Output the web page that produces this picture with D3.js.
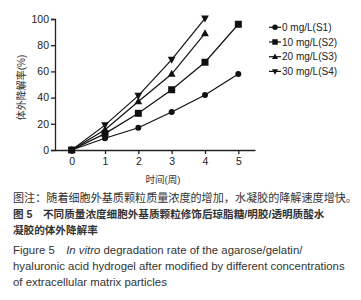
<!DOCTYPE html>
<html>
<head>
<meta charset="utf-8">
<script src="https://cdn.jsdelivr.net/npm/d3@7/dist/d3.min.js"></script>
<style>
  body { margin: 0; background: #fff; }
  svg { display: block; }
</style>
</head>
<body>
<div id="chart"></div>
<script>
// data
const weeks = [0, 1, 2, 3, 4, 5];
const seriesNames = ["0 mg/L(S1)", "10 mg/L(S2)", "20 mg/L(S3)", "30 mg/L(S4)"];
const s1 = [0, 9, 17, 29, 42, 58];
const s2 = [0, 12.5, 28, 46, 67, 96];
const s3 = [0, 15.5, 37, 58, 89];
const s4 = [0, 19, 41.5, 69, 100.5];
const markers = ["circle", "square", "triangle", "triangleDown"];
const yTicks = [0, 20, 40, 60, 80, 100];
const xTicks = [0, 1, 2, 3, 4, 5];
const yLabel = "体外降解率(%)";
const xLabel = "时间(周)";
const captionCn = [
  "图注：随着细胞外基质颗粒质量浓度的增加，水凝胶的降解速度增快。",
  "图 5　不同质量浓度细胞外基质颗粒修饰后琼脂糖/明胶/透明质酸水",
  "凝胶的体外降解率"
];
const captionEn = [
  "hyaluronic acid hydrogel after modified by different concentrations",
  "of extracellular matrix particles"
];

const width = 361, height = 300;
const font = "Arial, 'Liberation Sans', 'Noto Sans CJK SC', sans-serif";

const svg = d3.select("#chart").append("svg")
  .attr("width", width)
  .attr("height", height)
  .style("font-family", font);

const x = d3.scaleLinear().domain([-0.5, 5.5]).range([55, 255]);
const y = d3.scaleLinear().domain([0, 100]).range([150, 19]);

// Y axis
svg.append("g")
  .attr("transform", `translate(${x(-0.5)},0)`)
  .call(d3.axisLeft(y).tickValues(yTicks).tickSize(4).tickPadding(2))
  .call(g => g.selectAll("text").attr("font-size", "10.5px").attr("fill", "#222").style("font-family", font))
  .call(g => g.selectAll("line, path").attr("stroke", "#222").attr("stroke-width", 1.3));

// X axis
svg.append("g")
  .attr("transform", `translate(0,${y(0)})`)
  .call(d3.axisBottom(x).tickValues(xTicks).tickFormat(d3.format("d"))
    .tickSize(4).tickPadding(4).tickSizeOuter(0))
  .call(g => g.selectAll("text").attr("font-size", "10.5px").attr("fill", "#222").style("font-family", font))
  .call(g => g.selectAll("line, path").attr("stroke", "#222").attr("stroke-width", 1.3));

// axis titles
svg.append("text")
  .attr("transform", `translate(25,${(y(0) + y(100)) / 2 + 3}) rotate(-90)`)
  .attr("text-anchor", "middle")
  .attr("font-size", "10px")
  .attr("fill", "#333")
  .text(yLabel);

svg.append("text")
  .attr("x", x(2.5) + 8)
  .attr("y", 183)
  .attr("text-anchor", "middle")
  .attr("font-size", "9.5px")
  .attr("fill", "#333")
  .text(xLabel);

// marker shapes
function drawMarker(g, type, cx, cy, s) {
  if (type === "circle") {
    g.append("circle").attr("cx", cx).attr("cy", cy).attr("r", s * 0.5).attr("fill", "#111");
  } else if (type === "square") {
    g.append("rect").attr("x", cx - s / 2).attr("y", cy - s / 2)
      .attr("width", s).attr("height", s).attr("fill", "#111");
  } else if (type === "triangle") {
    g.append("path")
      .attr("d", `M${cx},${cy - s * 0.6}L${cx + s * 0.55},${cy + s * 0.4}L${cx - s * 0.55},${cy + s * 0.4}Z`)
      .attr("fill", "#111");
  } else {
    g.append("path")
      .attr("d", `M${cx},${cy + s * 0.6}L${cx + s * 0.55},${cy - s * 0.4}L${cx - s * 0.55},${cy - s * 0.4}Z`)
      .attr("fill", "#111");
  }
}

const allSeries = [s1, s2, s3, s4];
const line = d3.line().x((d, i) => x(weeks[i])).y(d => y(d));

allSeries.forEach((vals, k) => {
  const g = svg.append("g");
  g.append("path")
    .datum(vals)
    .attr("d", line)
    .attr("fill", "none")
    .attr("stroke", "#111")
    .attr("stroke-width", 1.2);
  vals.forEach((v, i) => drawMarker(g, markers[k], x(weeks[i]), y(v), k === 0 ? 6 : 7));
});

// legend
const legend = svg.append("g").attr("transform", "translate(269,27.3)");
seriesNames.forEach((name, k) => {
  const row = legend.append("g").attr("transform", `translate(0,${k * 14.7})`);
  row.append("line").attr("x1", 0).attr("x2", 12).attr("y1", 0).attr("y2", 0)
    .attr("stroke", "#111").attr("stroke-width", 1.2);
  drawMarker(row, markers[k], 6, 0, 5.5);
  row.append("text")
    .attr("x", 13)
    .attr("y", 3.6)
    .attr("font-size", "10px")
    .attr("fill", "#222")
    .text(name);
});

// caption
const cap = svg.append("g").attr("fill", "#333");
cap.append("text").attr("x", 13).attr("y", 202).attr("font-size", "11.1px").text(captionCn[0]);
cap.append("text").attr("x", 13).attr("y", 217.5).attr("font-size", "10.6px")
  .attr("font-weight", "bold").text(captionCn[1]);
cap.append("text").attr("x", 13).attr("y", 234).attr("font-size", "10.6px")
  .attr("font-weight", "bold").text(captionCn[2]);

const fig = cap.append("text").attr("x", 13).attr("y", 254).attr("font-size", "11.4px");
fig.append("tspan").text("Figure 5\u2003");
fig.append("tspan").attr("font-style", "italic").text("In vitro");
fig.append("tspan").text(" degradation rate of the agarose/gelatin/");
cap.append("text").attr("x", 13).attr("y", 270).attr("font-size", "11.4px").text(captionEn[0]);
cap.append("text").attr("x", 13).attr("y", 286).attr("font-size", "11.4px").text(captionEn[1]);
</script>
</body>
</html>
